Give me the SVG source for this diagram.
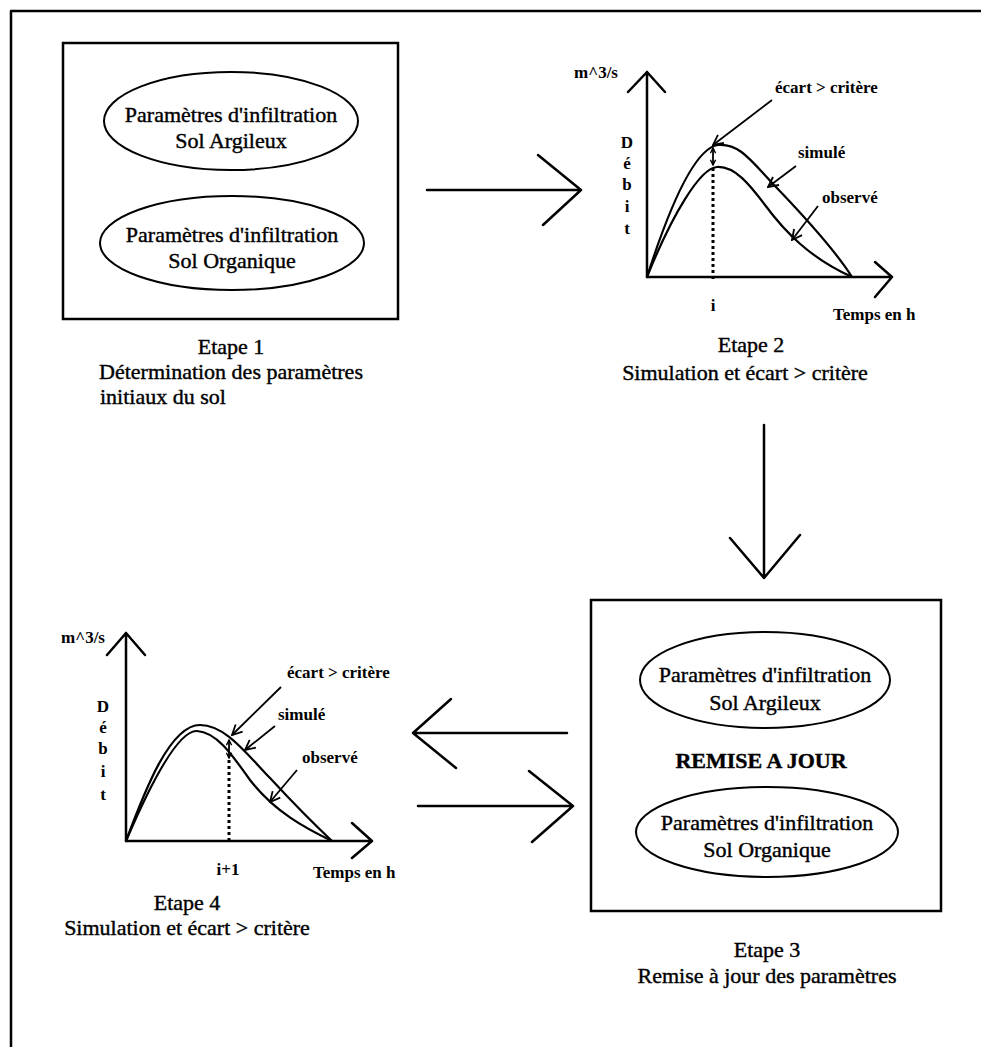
<svg xmlns="http://www.w3.org/2000/svg" width="981" height="1047" viewBox="0 0 981 1047">
<style>
.t{font-family:"Liberation Serif","Times New Roman",serif;font-size:22px;fill:#000;stroke:#000;stroke-width:0.4;text-anchor:middle}
.lb{font-family:"Liberation Serif","Times New Roman",serif;font-size:17px;font-weight:bold;fill:#000}
.ax{stroke:#000;stroke-width:2.5;fill:none;stroke-linecap:round;stroke-linejoin:round}
.cv{stroke:#000;stroke-width:2.2;fill:none}
.sm{stroke:#000;stroke-width:1.8;fill:none;marker-end:url(#v)}
.gp{stroke:#000;stroke-width:1.8;fill:none;marker-end:url(#w);marker-start:url(#w)}
.dot{stroke:#000;stroke-width:3;stroke-dasharray:3 3;fill:none}
.box{fill:none;stroke:#000;stroke-width:2.5}
.el{fill:none;stroke:#000;stroke-width:2}
</style>
<defs>
<marker id="v" viewBox="0 0 12 12" refX="11" refY="6" markerWidth="12" markerHeight="12" markerUnits="userSpaceOnUse" orient="auto-start-reverse">
<path d="M1,1 L11,6 L1,11" fill="none" stroke="#000" stroke-width="1.8"/>
</marker>
<marker id="w" viewBox="0 0 8 8" refX="7" refY="4" markerWidth="7" markerHeight="7" markerUnits="userSpaceOnUse" orient="auto-start-reverse">
<path d="M1,1 L7,4 L1,7" fill="none" stroke="#000" stroke-width="1.6"/>
</marker>
</defs>
<rect width="981" height="1047" fill="#fff"/>
<path class="ax" d="M981,11 L11,11 L11,1047"/>

<g id="etape1">
<rect class="box" x="63" y="43" width="335" height="276"/>
<ellipse class="el" cx="231" cy="121" rx="127" ry="49"/>
<text class="t" x="231" y="122">Paramètres d'infiltration</text>
<text class="t" x="231" y="148">Sol Argileux</text>
<ellipse class="el" cx="232" cy="243" rx="132" ry="47"/>
<text class="t" x="232" y="242">Paramètres d'infiltration</text>
<text class="t" x="232" y="268">Sol Organique</text>
<text class="t" x="231" y="354">Etape 1</text>
<text class="t" x="231" y="379">Détermination des paramètres</text>
<text class="t" x="100" y="404" style="text-anchor:start">initiaux du sol</text>
</g>

<g id="etape2">
<path class="ax" d="M647,277 L647,72 M628,92 L647,72 L665,92"/>
<path class="ax" d="M647,277 L892,277 M875,262 L892,277 L875,297"/>
<text class="lb" x="618" y="78" text-anchor="end" font-size="14">m^3/s</text>
<g class="lb" text-anchor="middle" font-size="18">
<text x="627" y="148">D</text><text x="627" y="169">é</text><text x="627" y="190">b</text><text x="627" y="212">i</text><text x="627" y="234">t</text>
</g>
<path class="dot" d="M713,168 L713,279"/>
<path class="cv" d="M647,277 C670,205 695,148 718,145 C740,143 752,162 775,186 C800,212 835,250 852,277"/>
<path class="cv" d="M647,277 C672,215 700,168 717,167 C735,166 750,185 765,205 C785,232 810,258 852,277"/>
<path class="gp" d="M713,148 L713,165"/>
<text class="lb" x="775" y="93">écart &gt; critère</text>
<path class="sm" d="M772,100 L713,145"/>
<text class="lb" x="798" y="158">simulé</text>
<path class="sm" d="M796,166 L768,187"/>
<text class="lb" x="822" y="203">observé</text>
<path class="sm" d="M818,206 L792,240"/>
<text class="lb" x="713" y="311" text-anchor="middle" font-size="18">i</text>
<text class="lb" x="833" y="320" font-size="16">Temps en h</text>
<text class="t" x="751" y="352">Etape 2</text>
<text class="t" x="745" y="380">Simulation et écart &gt; critère</text>
</g>

<g id="etape3">
<rect class="box" x="591" y="600" width="350" height="311"/>
<ellipse class="el" cx="765" cy="680" rx="125" ry="48"/>
<text class="t" x="765" y="682">Paramètres d'infiltration</text>
<text class="t" x="765" y="710">Sol Argileux</text>
<text class="t" x="761" y="768" font-weight="bold">REMISE A JOUR</text>
<ellipse class="el" cx="767" cy="832" rx="131" ry="45"/>
<text class="t" x="767" y="830">Paramètres d'infiltration</text>
<text class="t" x="767" y="857">Sol Organique</text>
<text class="t" x="767" y="957">Etape 3</text>
<text class="t" x="767" y="983">Remise à jour des paramètres</text>
</g>

<g id="etape4">
<path class="ax" d="M126,841 L126,633 M107,655 L126,633 L145,655"/>
<path class="ax" d="M126,841 L372,841 M352,823 L372,841 L352,858"/>
<text class="lb" x="105" y="643" text-anchor="end" font-size="14">m^3/s</text>
<g class="lb" text-anchor="middle" font-size="18">
<text x="103" y="712">D</text><text x="103" y="733">é</text><text x="103" y="754">b</text><text x="103" y="777">i</text><text x="103" y="800">t</text>
</g>
<path class="dot" d="M229,760 L229,843"/>
<path class="cv" d="M126,841 C145,790 170,725 200,725 C225,725 245,752 270,778 C295,805 315,825 332,841"/>
<path class="cv" d="M126,841 C150,785 178,730 197,731 C216,732 231,753 250,780 C275,812 305,828 332,841"/>
<path class="gp" d="M229,740 L229,758"/>
<text class="lb" x="287" y="678">écart &gt; critère</text>
<path class="sm" d="M281,687 L232,735"/>
<text class="lb" x="278" y="720">simulé</text>
<path class="sm" d="M275,726 L245,750"/>
<text class="lb" x="302" y="763">observé</text>
<path class="sm" d="M297,770 L270,802"/>
<text class="lb" x="228" y="875" text-anchor="middle" font-size="20">i+1</text>
<text class="lb" x="313" y="878" font-size="16">Temps en h</text>
<text class="t" x="187" y="910">Etape 4</text>
<text class="t" x="187" y="935">Simulation et écart &gt; critère</text>
</g>

<g id="connectors">
<path class="ax" d="M427,190 L581,190 M538,155 L581,190 L543,225"/>
<path class="ax" d="M764,425 L764,578 M730,538 L764,578 L800,535"/>
<path class="ax" d="M567,733 L413,733 M451,699 L413,733 L456,768"/>
<path class="ax" d="M418,806 L573,806 M529,771 L573,806 L532,842"/>
</g>
</svg>
